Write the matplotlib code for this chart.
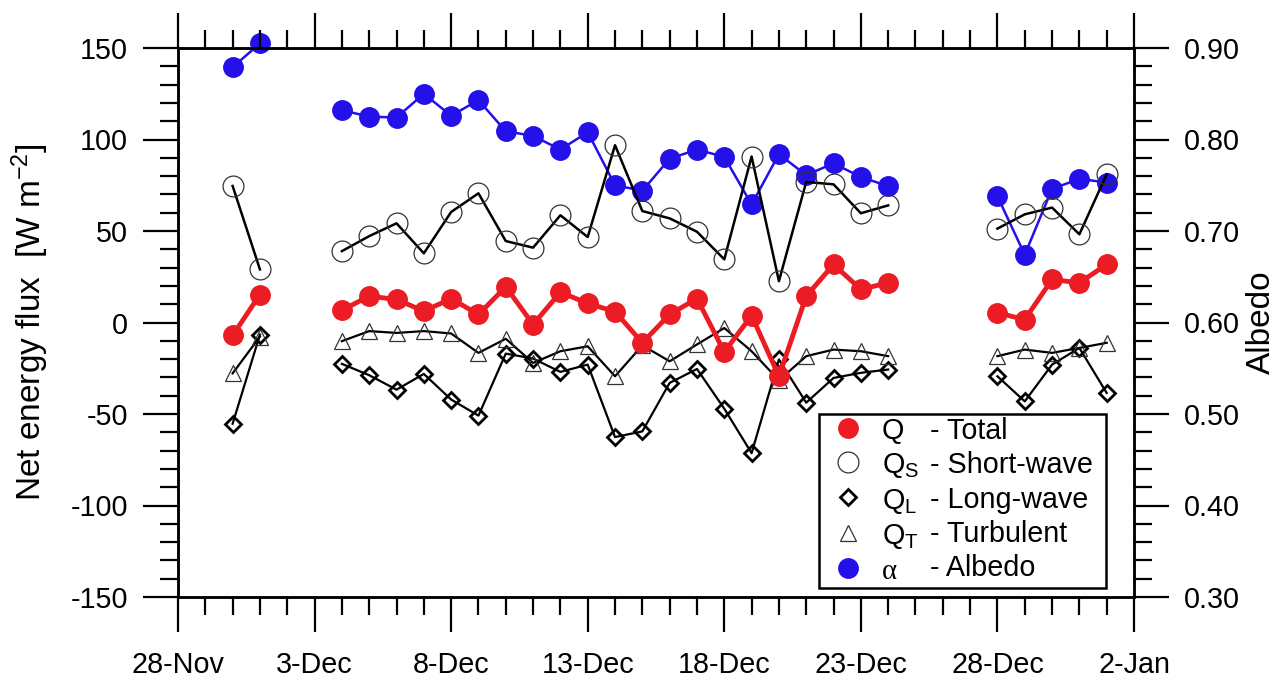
import matplotlib
matplotlib.use('Agg')
import matplotlib.pyplot as plt
import matplotlib.dates as mdates
from matplotlib.ticker import MultipleLocator, FixedLocator, FuncFormatter
from matplotlib.lines import Line2D
import numpy as np
import pandas as pd

plt.rcParams['font.family'] = ['Liberation Sans', 'DejaVu Sans']
plt.rcParams['mathtext.fontset'] = 'custom'
plt.rcParams['mathtext.rm'] = 'Liberation Sans'
plt.rcParams['mathtext.it'] = 'Liberation Sans:italic'
plt.rcParams['axes.unicode_minus'] = False

nan = np.nan
# daily dates (30-Nov to 1-Jan), gaps are NaN
days = pd.date_range('2012-11-30', '2013-01-01', freq='D')

q_total = [-7.1, 15.3, nan, nan,
           6.7, 14.4, 12.6, 6.2, 13.0, 4.4, 19.5, -1.1, 16.6, 10.4, 6.0,
           -11.1, 4.4, 13.1, -16.1, 3.8, -29.4, 14.4, 31.7, 18.1, 21.7,
           nan, nan, nan,
           5.3, 1.6, 23.5, 21.7, 31.7]
q_short = [74.6, 29.0, nan, nan,
           39.0, 47.2, 54.2, 37.8, 60.4, 70.6, 44.5, 40.9, 58.6, 46.7, 96.9,
           60.9, 56.9, 49.6, 34.5, 90.7, 22.6, 76.8, 75.5, 59.7, 64.0,
           nan, nan, nan,
           51.3, 59.1, 62.8, 48.2, 81.0]
q_long = [-55.3, -6.6, nan, nan,
          -22.6, -28.8, -36.7, -28.1, -42.1, -50.9, -17.0, -19.7, -27.0, -23.0, -62.6,
          -59.5, -33.0, -25.4, -47.1, -71.4, -20.2, -43.8, -30.3, -27.5, -25.7,
          nan, nan, nan,
          -29.4, -43.1, -23.0, -13.9, -38.5]
q_turb = [-27.8, -7.7, nan, nan,
          -10.2, -4.7, -5.7, -4.7, -6.0, -16.6, -8.9, -22.1, -15.7, -13.0, -29.4,
          -12.5, -21.2, -12.0, -3.0, -15.7, -31.6, -18.4, -14.8, -15.7, -18.4,
          nan, nan, nan,
          -18.4, -14.8, -16.6, -13.9, -11.1]
albedo = [0.879, 0.905, nan, nan,
          0.832, 0.825, 0.824, 0.850, 0.826, 0.843, 0.809, 0.804, 0.789, 0.808, 0.750,
          0.744, 0.779, 0.789, 0.781, 0.729, 0.784, 0.761, 0.774, 0.759, 0.749,
          nan, nan, nan,
          0.738, 0.674, 0.746, 0.757, 0.753]

x_start, x_end = '2012-11-28', '2013-01-02'
major_dates = pd.date_range(x_start, x_end, freq='5D')

sym_labels = ['Q', r'Q$_{\mathregular{S}}$', r'Q$_{\mathregular{L}}$', r'Q$_{\mathregular{T}}$', '\u03b1']
desc_labels = ['- Total', '- Short-wave', '- Long-wave', '- Turbulent', '- Albedo']

RED = '#ec1c24'
BLUE = '#2410e8'
FS = 20.7

W, H = 1283, 679
fig = plt.figure(figsize=(W / 100, H / 100), dpi=100)
ax = fig.add_axes([178 / W, 1 - 597 / H, (1134 - 178) / W, (597 - 48) / H])
ax2 = ax.twinx()
ax.set_zorder(2)
ax2.set_zorder(1)
ax.patch.set_visible(False)

# albedo (right axis, drawn beneath)
ax2.plot(days, albedo, '-o', color=BLUE, lw=1.8, ms=14, mfc=BLUE, mec=BLUE, clip_on=False)

# flux components
ax.plot(days, q_long, '-D', color='black', lw=1.6, ms=8.3, mfc='none', mec='black', mew=2.0, clip_on=False)
ax.plot(days, q_turb, '-^', color='black', lw=1.6, ms=12, mfc='none', mec='#333333', mew=0.9, clip_on=False)
ax.plot(days, q_short, '-o', color='black', lw=1.8, ms=15, mfc='none', mec='#333333', mew=0.9, clip_on=False)
ax.plot(days, q_total, '-o', color=RED, lw=3.5, ms=14, mfc=RED, mec=RED, clip_on=False)

ax.set_xlim(pd.Timestamp(x_start), pd.Timestamp(x_end))
ax.set_ylim(-150, 150)
ax2.set_ylim(0.30, 0.90)

ax.xaxis.set_major_locator(FixedLocator(mdates.date2num(major_dates)))
ax.xaxis.set_minor_locator(mdates.DayLocator())
ax.xaxis.set_major_formatter(FuncFormatter(
    lambda v, p: f"{mdates.num2date(v).day}-{mdates.num2date(v):%b}"))
ax.yaxis.set_major_locator(MultipleLocator(50))
ax.yaxis.set_minor_locator(MultipleLocator(10))
ax2.yaxis.set_major_locator(MultipleLocator(0.1))
ax2.yaxis.set_minor_locator(MultipleLocator(0.02))
ax2.yaxis.set_major_formatter(FuncFormatter(lambda v, p: f"{v:.2f}"))

for a in (ax, ax2):
    for s in a.spines.values():
        s.set_linewidth(1.8)
    a.tick_params(which='major', direction='out', length=25, width=1.6, labelsize=FS)
    a.tick_params(which='minor', direction='out', length=13, width=1.6)

ax.tick_params(axis='x', which='both', top=True, bottom=True, labeltop=False, pad=14)
ax.tick_params(axis='y', which='both', left=True, right=False, pad=11)
ax2.tick_params(axis='y', which='both', right=True, left=False, pad=11)

ax.set_ylabel(r'Net energy flux  [W m$^{\mathregular{-2}}$]', fontsize=24, labelpad=14)
ax2.set_ylabel('Albedo', fontsize=24, labelpad=4)

# legend: symbol column + description column (+ a blank padding column)
h_sym = [
    Line2D([], [], ls='none', marker='o', ms=14, mfc=RED, mec=RED),
    Line2D([], [], ls='none', marker='o', ms=15, mfc='none', mec='#333333', mew=0.9),
    Line2D([], [], ls='none', marker='D', ms=8.3, mfc='none', mec='black', mew=2.0),
    Line2D([], [], ls='none', marker='^', ms=12, mfc='none', mec='#333333', mew=0.9),
    Line2D([], [], ls='none', marker='o', ms=14, mfc=BLUE, mec=BLUE),
]
h_blank = [Line2D([], [], ls='none', marker='none') for _ in desc_labels]
h_pad = [Line2D([], [], ls='none', marker='none') for _ in desc_labels]
leg = ax.legend(h_sym + h_blank + h_pad, sym_labels + desc_labels + [''] * 5, ncol=3,
                loc='lower right', bbox_to_anchor=((1106 - 178) / 956, (597 - 588) / 549),
                borderaxespad=0, fontsize=FS, handlelength=1.84, handleheight=1.0,
                handletextpad=0.23, labelspacing=0.195, columnspacing=-1.69,
                borderpad=0.09, fancybox=False, framealpha=1, edgecolor='black')
leg.get_frame().set_linewidth(1.8)
leg.get_texts()[4].set_fontfamily(['Liberation Serif', 'DejaVu Serif'])

fig.savefig('out.png', dpi=100)
